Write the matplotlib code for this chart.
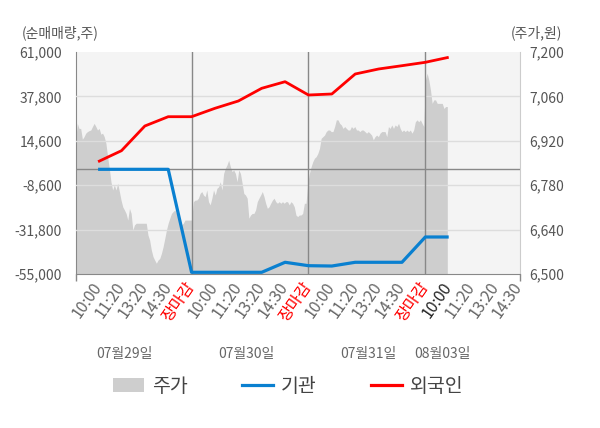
import numpy as np
import matplotlib
matplotlib.use('Agg')
import matplotlib.pyplot as plt
from matplotlib.patches import Patch
from matplotlib.lines import Line2D
from matplotlib.transforms import blended_transform_factory

plt.rcParams['font.family'] = ['Noto Sans CJK KR', 'DejaVu Sans']

# ---------------- data ----------------
time_labels = ['10:00', '11:20', '13:20', '14:30', '장마감',
               '10:00', '11:20', '13:20', '14:30', '장마감',
               '10:00', '11:20', '13:20', '14:30', '장마감',
               '10:00', '11:20', '13:20', '14:30']
date_labels = ['07월29일', '07월30일', '07월31일', '08월03일']

# net buying (shares), one value per label slot
foreign = [3682, 9429, 22335, 27194, 27194, 31583, 35397, 42033, 45482,
           38532, 39055, 49505, 52117, 53842, 55618, 58231]
institution = [-300, -300, -300, -300, -54107, -54107, -54107, -54107, -48880,
               -50658, -50833, -48880, -48880, -48880, -35663, -35663]

# stock price (won), intraday
price = [6920, 6975, 6959, 6959, 6925, 6933, 6944, 6949, 6952, 6954,
         6965, 6975, 6965, 6954, 6959, 6941, 6944, 6933, 6912, 6870,
         6833, 6791, 6765, 6781, 6765, 6786, 6760, 6733, 6712, 6702,
         6691, 6670, 6707, 6691, 6639, 6655, 6660, 6660, 6660, 6660,
         6660, 6660, 6660, 6623, 6607, 6576, 6555, 6544, 6534, 6544,
         6549, 6565, 6586, 6612, 6639, 6660, 6676, 6691, 6697, 6702,
         6691, 6676, 6660, 6655, 6660, 6670, 6670, 6670, 6670, 6670,
         # day 2
         6728, 6733, 6733, 6739, 6754, 6760, 6749, 6744, 6765, 6728,
         6718, 6739, 6765, 6749, 6770, 6775, 6791, 6765, 6817, 6833,
         6844, 6859, 6838, 6823, 6828, 6817, 6791, 6828, 6817, 6786,
         6754, 6749, 6739, 6676, 6686, 6691, 6691, 6702, 6728, 6739,
         6749, 6760, 6744, 6723, 6707, 6712, 6723, 6733, 6739, 6728,
         6723, 6728, 6723, 6728, 6723, 6728, 6728, 6718, 6728, 6723,
         6712, 6686, 6681, 6686, 6686,
         # day 3
         6691, 6723, 6723, 6786, 6817, 6838, 6854, 6865, 6870, 6880,
         6896, 6928, 6933, 6938, 6949, 6954, 6954, 6949, 6949, 6965,
         6986, 6986, 6975, 6970, 6959, 6965, 6959, 6954, 6954, 6965,
         6959, 6965, 6954, 6954, 6949, 6954, 6954, 6949, 6944, 6949,
         6944, 6938, 6923, 6933, 6938, 6933, 6944, 6949, 6949, 6949,
         6933, 6965, 6959, 6970, 6959, 6970, 6965, 6975, 6959, 6949,
         6954, 6949, 6954, 6949, 6954, 6944, 6954, 6980, 6986, 6980,
         6986, 6975, 6965,
         # day 4
         7112, 7133, 7112, 7080, 7038, 7049, 7049, 7038, 7038, 7038,
         7038, 7022, 7028, 7028]

# ---------------- layout ----------------
W, H = 600, 428
fig = plt.figure(figsize=(W / 100, H / 100), dpi=100)
ax = fig.add_axes([76 / W, 1 - 274 / H, 444 / W, 222 / H])

xmin, xmax = -0.945, 18.05
idx = np.arange(len(foreign))
price_x = np.linspace(-0.96, 14.94, len(price))

# price area on the base axes (right scale)
ax.set_facecolor('#f4f4f4')
ax.fill_between(price_x, 6500, price, color='#cecece', lw=0, zorder=1)
ax.set_xlim(xmin, xmax)
ax.set_ylim(6500, 7200)

ax.set_xticks(range(len(time_labels)))
ax.set_xticklabels(time_labels, rotation=55, rotation_mode='anchor',
                   ha='right', va='center', fontsize=11.5)
ax.tick_params(axis='x', which='major', length=0, pad=7)
for i, t in enumerate(ax.get_xticklabels()):
    if time_labels[i] == '장마감':
        t.set_color('#ff0000')
    elif i == 15:
        t.set_color('#222222')
    else:
        t.set_color('#666666')
ax.set_xticks([xmin, 4, 9, 14, xmax], minor=True)
ax.tick_params(axis='x', which='minor', length=5, color='#888888', width=1)

ax.spines['top'].set_visible(False)
ax.spines['left'].set_color('#888888')
ax.spines['bottom'].set_color('#888888')
ax.spines['right'].set_color('#cccccc')

# volume axes (left scale)
ax2 = ax.twinx()
ax2.set_ylim(-55000, 61000)
lticks = [-55000, -31800, -8600, 14600, 37800, 61000]
ax2.set_yticks(lticks)
ax2.set_yticklabels([f'{v:,}' for v in lticks])
ax2.yaxis.set_ticks_position('left')
ax2.yaxis.set_label_position('left')
ax2.tick_params(axis='y', length=0, pad=10, labelsize=10, labelcolor='#555555',
                labelleft=True, labelright=False)
for s in ax2.spines.values():
    s.set_visible(False)

# price ticks on the right (after twinx, which resets them)
rticks = [6500, 6640, 6780, 6920, 7060, 7200]
ax.set_yticks(rticks)
ax.set_yticklabels([f'{v:,}' for v in rticks])
ax.yaxis.set_ticks_position('right')
ax.tick_params(axis='y', length=0, pad=7, labelsize=10, labelcolor='#555555',
               labelleft=False, labelright=True)

for v in lticks[1:-1]:
    ax2.axhline(v, color='#dddddd', lw=1, zorder=1)
ax2.axhline(0, color='#888888', lw=1, zorder=2)
for xv in [4, 9, 14]:
    ax2.axvline(xv, color='#888888', lw=1, zorder=2)

ax2.plot(idx, institution, color='#0a80d0', lw=2.3, zorder=4, solid_capstyle='butt')
ax2.plot(idx, foreign, color='#ff0000', lw=2.0, zorder=5, solid_capstyle='butt')

# date labels
tr = blended_transform_factory(ax.transData, fig.transFigure)
for pos, lab in zip([1.13, 6.35, 11.56, 14.75], date_labels):
    ax.text(pos, 1 - 354 / H, lab, transform=tr, ha='center', va='center',
            fontsize=10, color='#666666')

# axis titles
fig.text(22 / W, 1 - 33 / H, '(순매매량,주)', ha='left', va='center',
         fontsize=10, color='#555555')
fig.text(562 / W, 1 - 33 / H, '(주가,원)', ha='right', va='center',
         fontsize=10, color='#555555')

# legend
handles = [Patch(facecolor='#cecece', edgecolor='none'),
           Line2D([], [], color='#0a80d0', lw=2.3),
           Line2D([], [], color='#ff0000', lw=2.3)]
leg = fig.legend(handles, ['주가', '기관', '외국인'], loc='center',
                 bbox_to_anchor=(288.5 / W, 1 - 386 / H), ncol=3, frameon=False,
                 fontsize=14, handlelength=1.6, handletextpad=0.4,
                 columnspacing=2.8)
for t in leg.get_texts():
    t.set_color('#444444')

fig.savefig('out.png', dpi=100)
